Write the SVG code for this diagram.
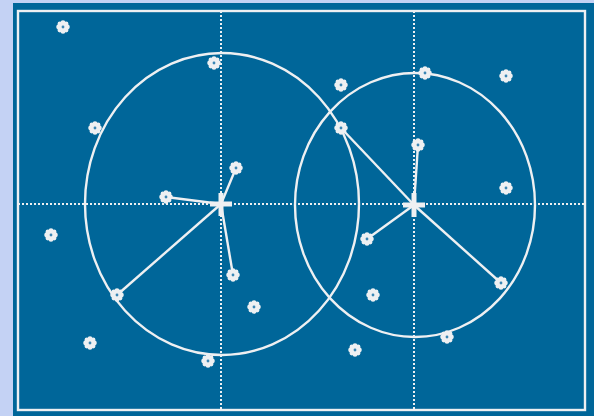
<svg xmlns="http://www.w3.org/2000/svg" width="594" height="416" viewBox="0 0 594 416">
<defs>
<style>
.ln{stroke:#eef0f2;stroke-width:2.4;fill:none}
.dot{stroke:#eef0f2;stroke-width:2;stroke-dasharray:2 2;fill:none}
.cr{stroke:#eef0f2;stroke-width:5;fill:none}
.lb{fill:#eef0f2}
</style>
<g id="fl">
<circle cx="0" cy="0" r="3.8" class="lb"/>
<circle cx="0" cy="-4.4" r="2.4" class="lb"/>
<circle cx="0" cy="4.4" r="2.4" class="lb"/>
<circle cx="-4.4" cy="0" r="2.4" class="lb"/>
<circle cx="4.4" cy="0" r="2.4" class="lb"/>
<circle cx="-3.1" cy="-3.1" r="2.4" class="lb"/>
<circle cx="3.1" cy="-3.1" r="2.4" class="lb"/>
<circle cx="-3.1" cy="3.1" r="2.4" class="lb"/>
<circle cx="3.1" cy="3.1" r="2.4" class="lb"/>
<circle cx="0" cy="0" r="1.4" fill="#3a86b4"/>
</g>
</defs>
<rect x="0" y="0" width="594" height="416" fill="#c4d2f4"/>
<rect x="13" y="3" width="581" height="413" fill="#006699"/>
<rect x="18" y="11" width="567" height="399" class="ln"/>
<g id="axes">
<line x1="221" y1="11" x2="221" y2="410" class="dot"/>
<line x1="414" y1="11" x2="414" y2="410" class="dot"/>
<line x1="18" y1="204" x2="585" y2="204" class="dot"/>
</g>
<g id="connectors">
<line x1="221" y1="204" x2="236" y2="168" class="ln"/>
<line x1="221" y1="204" x2="166" y2="197" class="ln"/>
<line x1="221" y1="204" x2="233" y2="275" class="ln"/>
<line x1="221" y1="204" x2="117" y2="295" class="ln"/>
<line x1="414" y1="205" x2="341" y2="128" class="ln"/>
<line x1="414" y1="205" x2="418" y2="145" class="ln"/>
<line x1="414" y1="205" x2="367" y2="239" class="ln"/>
<line x1="414" y1="205" x2="501" y2="283" class="ln"/>
</g>
<g id="cluster1">
<ellipse cx="222" cy="204" rx="137" ry="151" class="ln"/>
<path d="M221 193v23M210 204h22" class="cr"/>
</g>
<g id="cluster2">
<ellipse cx="415" cy="205" rx="120" ry="132" class="ln"/>
<path d="M414 193v24M403 205h22" class="cr"/>
</g>
<g id="points">
<use href="#fl" x="63" y="27"/>
<use href="#fl" x="214" y="63"/>
<use href="#fl" x="95" y="128"/>
<use href="#fl" x="236" y="168"/>
<use href="#fl" x="166" y="197"/>
<use href="#fl" x="51" y="235"/>
<use href="#fl" x="233" y="275"/>
<use href="#fl" x="117" y="295"/>
<use href="#fl" x="254" y="307"/>
<use href="#fl" x="90" y="343"/>
<use href="#fl" x="208" y="361"/>
<use href="#fl" x="341" y="85"/>
<use href="#fl" x="425" y="73"/>
<use href="#fl" x="506" y="76"/>
<use href="#fl" x="341" y="128"/>
<use href="#fl" x="418" y="145"/>
<use href="#fl" x="506" y="188"/>
<use href="#fl" x="367" y="239"/>
<use href="#fl" x="373" y="295"/>
<use href="#fl" x="501" y="283"/>
<use href="#fl" x="447" y="337"/>
<use href="#fl" x="355" y="350"/>
</g>
</svg>
